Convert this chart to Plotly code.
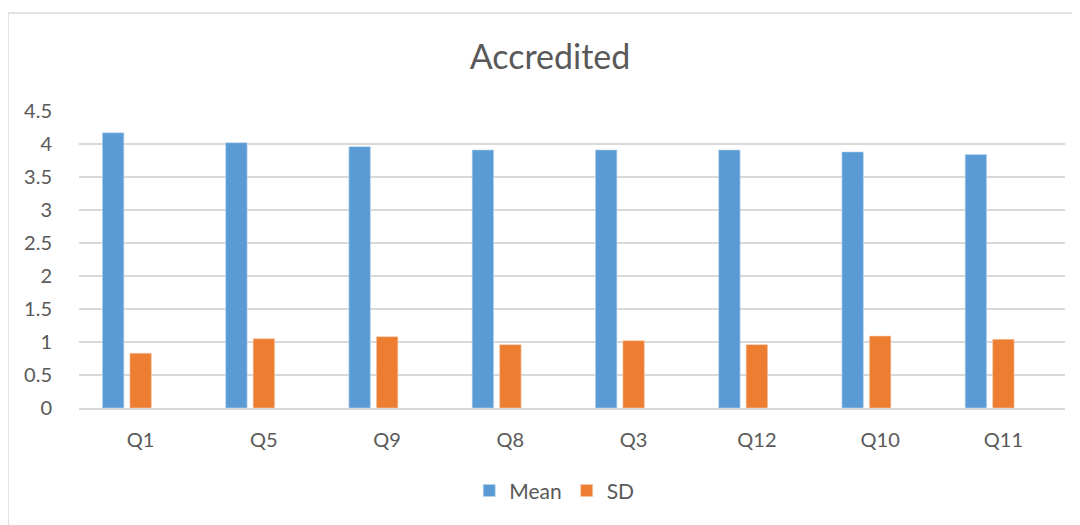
import plotly.graph_objects as go

categories = ["Q1", "Q5", "Q9", "Q8", "Q3", "Q12", "Q10", "Q11"]
mean_values = [4.17, 4.02, 3.96, 3.91, 3.91, 3.91, 3.88, 3.84]
sd_values = [0.83, 1.05, 1.08, 0.96, 1.02, 0.96, 1.09, 1.04]
# the source chart reserves a third (empty) series slot in each group
empty_values = [None] * len(categories)
y_ticks = [0, 0.5, 1, 1.5, 2, 2.5, 3, 3.5, 4, 4.5]
y_tick_labels = ["0", "0.5", "1", "1.5", "2", "2.5", "3", "3.5", "4", "4.5"]

FONT = "Lato, Calibri, Carlito, sans-serif"
TXT = "#595959"

fig = go.Figure()
fig.add_trace(go.Bar(x=categories, y=mean_values, name="Mean",
                     marker=dict(color="#5B9BD5", line=dict(color="#BDD7EE", width=0.6))))
fig.add_trace(go.Bar(x=categories, y=sd_values, name="SD",
                     marker=dict(color="#ED7D31", line=dict(color="#F8CBAD", width=0.6))))
fig.add_trace(go.Bar(x=categories, y=empty_values, name="", showlegend=False,
                     hoverinfo="skip", marker=dict(color="#A5A5A5")))

# page has an 8px body margin; compensate so the plot area lands at x 79..1065, y 111..408
fig.update_layout(
    width=1080, height=525,
    margin=dict(l=71, r=23, t=103, b=125),
    paper_bgcolor="white", plot_bgcolor="white",
    barmode="group", bargap=0.331, bargroupgap=0.22,
    font=dict(family=FONT, color=TXT, size=20),
    title=dict(text="Accredited", x=542 / 1080, xref="container", xanchor="center",
               y=1 - 49 / 525, yref="container", yanchor="middle",
               font=dict(family=FONT, size=34, color=TXT)),
    legend=dict(orientation="h", x=0.482, xanchor="center", y=-0.279, yanchor="middle",
                font=dict(family=FONT, size=21, color=TXT), traceorder="normal",
                itemwidth=30),
    xaxis=dict(showgrid=False, showline=True, linecolor="#D9D9D9", linewidth=2,
               ticks="outside", ticklen=13, tickcolor="rgba(0,0,0,0)",
               tickfont=dict(family=FONT, size=20, color=TXT), fixedrange=True),
    yaxis=dict(range=[0, 4.5], tickvals=y_ticks, ticktext=y_tick_labels,
               showgrid=True, gridcolor="#D9D9D9", gridwidth=2, zeroline=False,
               showline=False, ticks="outside", ticklen=22, tickcolor="rgba(0,0,0,0)",
               tickfont=dict(family=FONT, size=20, color=TXT), fixedrange=True),
    shapes=[dict(type="rect", xref="paper", yref="paper",
                 x0=(8 - 79) / 986, x1=1.2, y0=-0.6, y1=(408 - 13) / 297,
                 line=dict(color="#D9D9D9", width=1.5), fillcolor="rgba(0,0,0,0)",
                 layer="below")],
    showlegend=True,
)

fig.write_html("out.html")
